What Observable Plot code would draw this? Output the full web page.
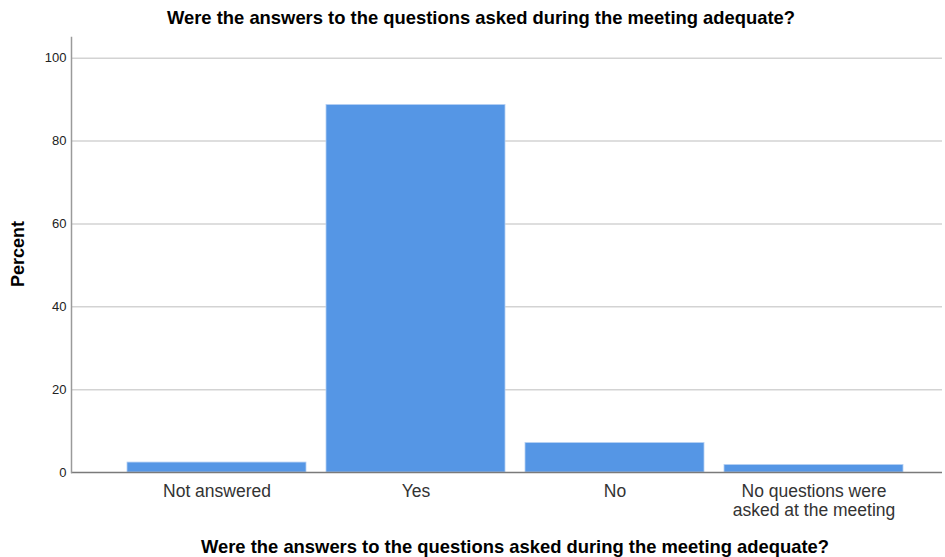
<!DOCTYPE html>
<html>
<head>
<meta charset="utf-8">
<script src="https://cdn.jsdelivr.net/npm/d3@7"></script>
<script src="https://cdn.jsdelivr.net/npm/@observablehq/plot@0.6"></script>
<style>
  html, body { margin: 0; padding: 0; background: white; }
</style>
</head>
<body>
<div id="chart"></div>
<script>
const categories = ["Not answered", "Yes", "No", "No questions were\nasked at the meeting"];
const percents = [2.4, 88.7, 7.1, 1.8];
const yTicks = [0, 20, 40, 60, 80, 100];
const title = "Were the answers to the questions asked during the meeting adequate?";
const xTitle = "Were the answers to the questions asked during the meeting adequate?";
const yTitle = "Percent";

const data = categories.map((c, i) => ({category: c, percent: percents[i]}));
const font = "'Liberation Sans', Arial, sans-serif";

const chart = Plot.plot({
  width: 945,
  height: 557,
  marginLeft: 71,
  marginRight: 3,
  marginTop: 37,
  marginBottom: 85,
  style: {fontFamily: font, background: "white", overflow: "visible"},
  x: {domain: categories, paddingInner: 0.1, paddingOuter: 0.235, align: 0.587, label: null},
  y: {domain: [0, 105], ticks: yTicks, label: null},
  marks: [
    Plot.ruleY(yTicks.filter(d => d > 0), {stroke: "#d3d3d3", strokeWidth: 1.5}),
    Plot.barY(data, {x: "category", y: "percent", fill: "#5596E5", stroke: "#b4cff3", strokeWidth: 0.8}),
    Plot.ruleY([0], {stroke: "#7a7a7a", strokeWidth: 1.5}),
    Plot.frame({anchor: "left", stroke: "#9a9a9a", strokeWidth: 1.5}),
    Plot.axisY({ticks: yTicks, tickSize: 0, tickPadding: 5, fontSize: 13, fill: "#222", label: null}),
    Plot.axisX({tickSize: 0, tickPadding: 11, fontSize: 17.5, fill: "#333", lineHeight: 1.08, label: null}),
    Plot.text([title], {frameAnchor: "top", lineAnchor: "middle", textAnchor: "middle", dx: -26, dy: -19, fontSize: 18.4, fontWeight: "bold", fill: "#000"}),
    Plot.text([xTitle], {frameAnchor: "bottom", lineAnchor: "middle", textAnchor: "middle", dx: 8, dy: 75, fontSize: 18.4, fontWeight: "bold", fill: "#000"}),
    Plot.text([yTitle], {frameAnchor: "left", lineAnchor: "middle", textAnchor: "middle", dx: -53, dy: -1, rotate: -90, fontSize: 18, fontWeight: "bold", fill: "#000"})
  ]
});
document.getElementById("chart").appendChild(chart);
</script>
</body>
</html>
